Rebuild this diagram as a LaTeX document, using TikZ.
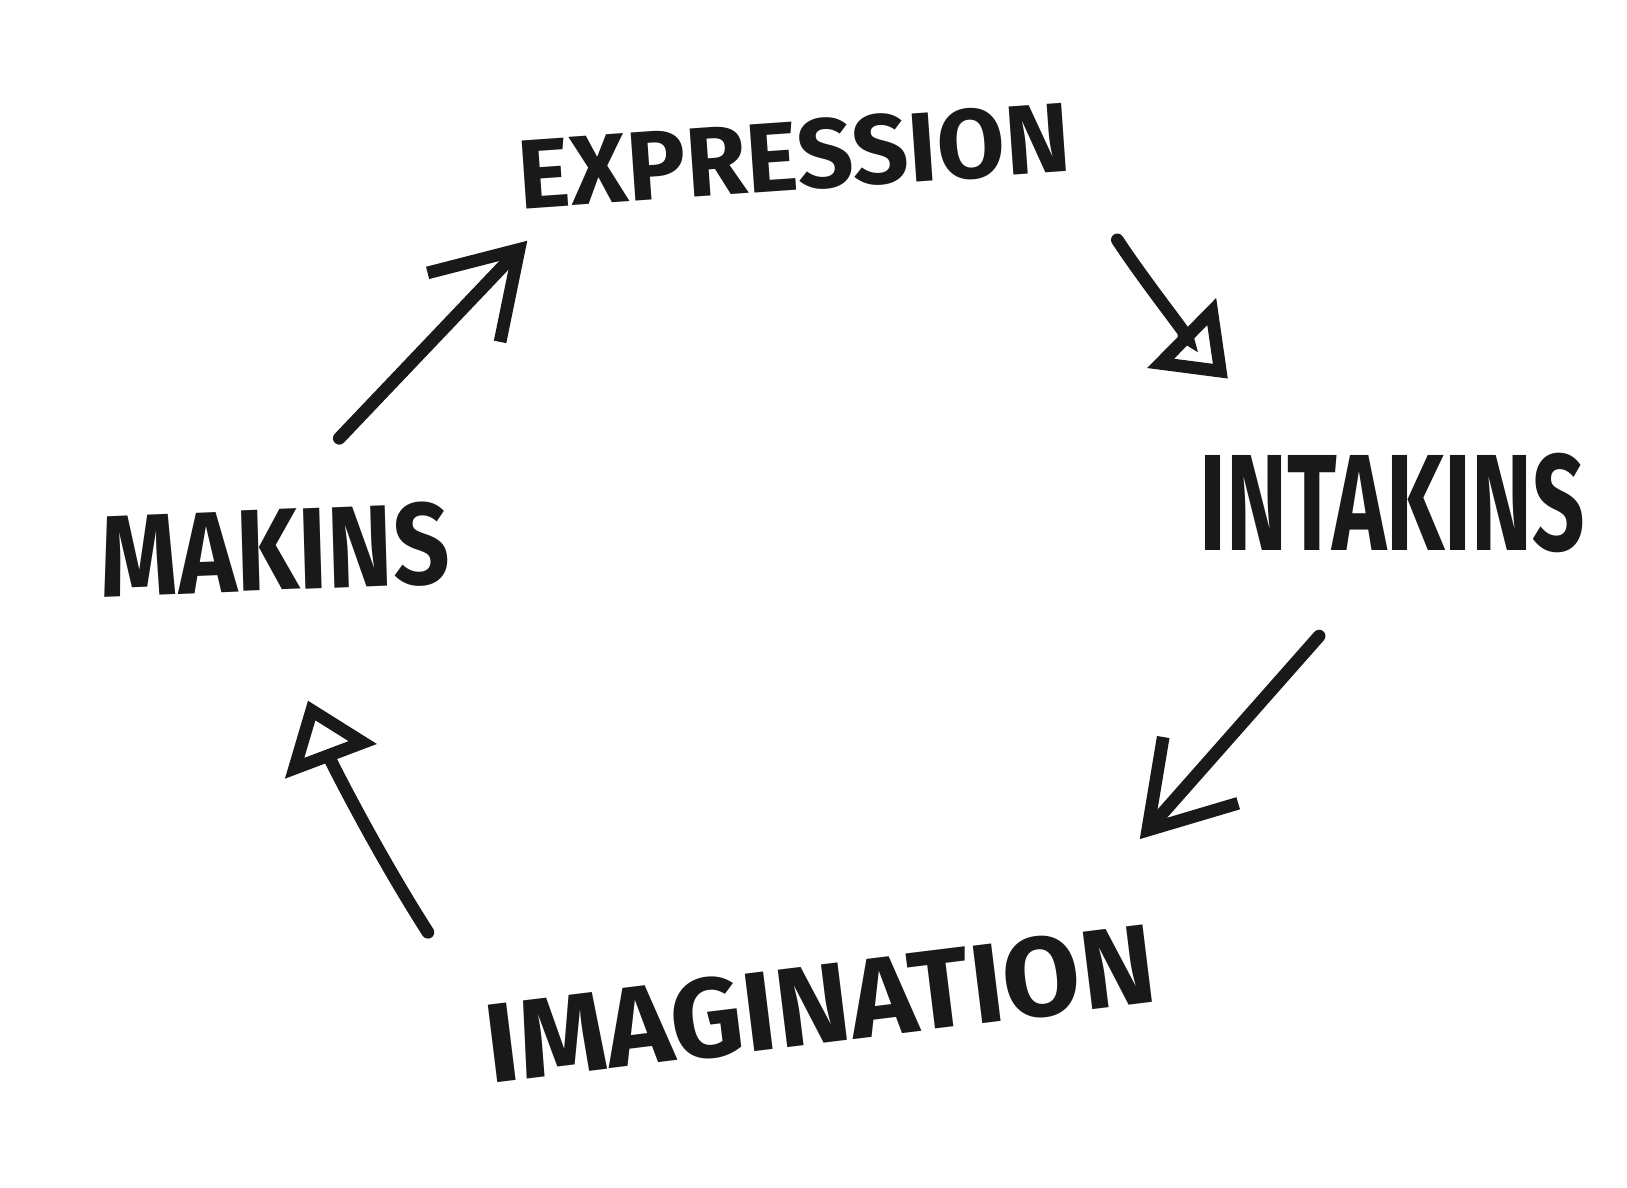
\documentclass[tikz,border=0pt]{standalone}
\usepackage{fontspec}
\setmainfont{Fira Sans}
\usetikzlibrary{arrows.meta}
\begin{document}
\begin{tikzpicture}[x=0.01cm,y=-0.01cm,
    word/.style={inner sep=0pt, text=black!90, transform shape,
      font=\bfseries\fontsize{#1}{#1}\selectfont},
    word/.default=28pt,
    stroke/.style={line width=3.6pt, line cap=round, black!90},
    barb/.style={-{Straight Barb[length=8mm,width=10mm]}},
    hollow/.style={-{Triangle[open,length=6.5mm,width=9.5mm]}}]
      \useasboundingbox (0,0) rectangle (1627,1187);
      \draw
        (794,156) node[word=28pt, rotate=4] (exp){EXPRESSION}
        (1392,503) node[word=39pt, xscale=0.67] (int){INTAKINS}
        (275,550) node[word=33pt, xscale=0.85, rotate=2] (mak){MAKINS}
        (820,1004) node[word=32pt, rotate=7] (ima){IMAGINATION};
      \begin{scope}[stroke]
        \draw[barb, shorten <=9.5mm, shorten >=4mm] (mak.north) to ([xshift=3.5mm]exp.south west);
        \draw[hollow, shorten <=8mm, shorten >=10.5mm] (exp.south east) to[bend right=6] ([xshift=10.4mm]int.north west);
        \draw[barb, shorten <=11mm, shorten >=11mm] (int.south) to ([xshift=-8.3mm]ima.north east);
        \draw[hollow, shorten <=8.5mm, shorten >=11.5mm] ([xshift=-0.6mm]ima.north west) to[bend left=6] ([xshift=-0.9mm]mak.south);
      \end{scope}
    \end{tikzpicture}
\end{document}
